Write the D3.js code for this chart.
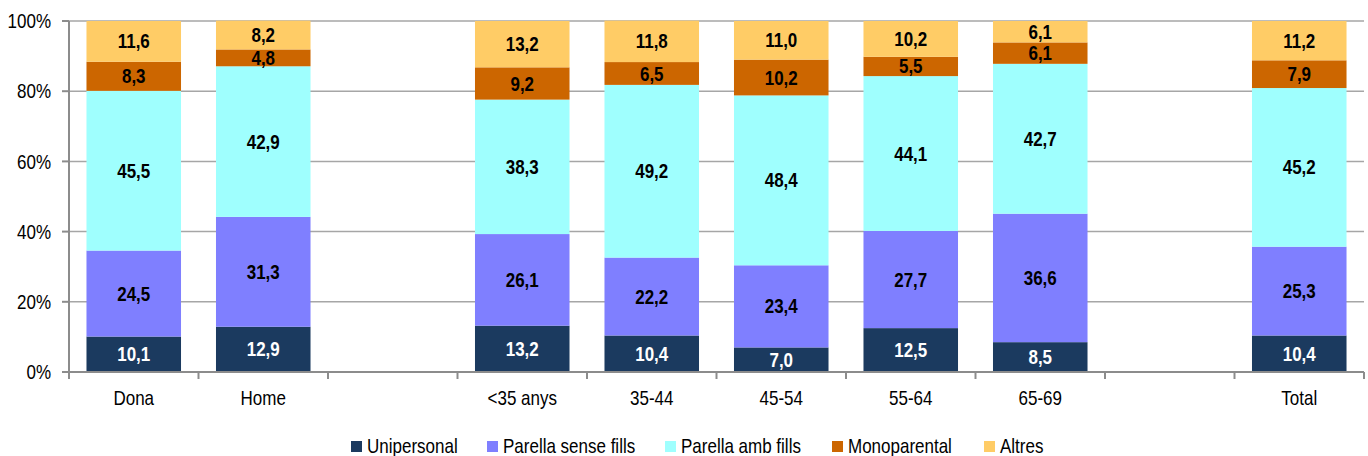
<!DOCTYPE html>
<html><head><meta charset="utf-8">
<script src="https://cdn.jsdelivr.net/npm/d3@7"></script>
<style>body{margin:0;background:#fff}svg{display:block}</style>
</head><body>
<svg id="c" width="1368" height="456"></svg>
<script>
const categories = ["Dona","Home","gap1","<35 anys","35-44","45-54","55-64","65-69","gap2","Total"];
const seriesNames = ["Unipersonal","Parella sense fills","Parella amb fills","Monoparental","Altres"];
const unipersonal   = [10.1,12.9,null,13.2,10.4, 7.0,12.5, 8.5,null,10.4];
const parellaSense  = [24.5,31.3,null,26.1,22.2,23.4,27.7,36.6,null,25.3];
const parellaAmb    = [45.5,42.9,null,38.3,49.2,48.4,44.1,42.7,null,45.2];
const monoparental  = [ 8.3, 4.8,null, 9.2, 6.5,10.2, 5.5, 6.1,null, 7.9];
const altres        = [11.6, 8.2,null,13.2,11.8,11.0,10.2, 6.1,null,11.2];
const yTicks = [0,20,40,60,80,100];
const colors = ["#1b3a5f","#7f7fff","#9ffffe","#cc6600","#ffcc66"];
const labelColors = ["#ffffff","#000","#000","#000","#000"];

const svg = d3.select("#c");
const L = 69, R = 1364, T = 21, B = 372;
const font = "'Liberation Sans',Arial,sans-serif";
const SX = 0.85;

function ntext(g, x, y, str, opts){
  const t = g.append("text")
    .attr("transform",`translate(${x},${y}) scale(${opts.sx||SX},1)`)
    .attr("text-anchor",opts.anchor||"middle")
    .attr("font-family",font).attr("font-size",opts.size||20)
    .attr("font-weight",opts.weight||"normal")
    .attr("fill",opts.fill||"#000")
    .text(str);
  if(opts.dy) t.attr("dy",opts.dy);
  return t;
}

const x = d3.scaleBand().domain(categories).range([L,R]).paddingInner(0.27).paddingOuter(0.135);
const y = d3.scaleLinear().domain([0,100]).range([B,T]);

// gridlines
svg.append("g").selectAll("line").data(yTicks.filter(d=>d>0)).join("line")
  .attr("x1",L).attr("x2",R).attr("y1",d=>y(d)).attr("y2",d=>y(d))
  .attr("stroke","#a6a6a6").attr("stroke-width",1.5);

const rows = categories.map((c,i)=>({cat:c, vals:[unipersonal[i],parellaSense[i],parellaAmb[i],monoparental[i],altres[i]]}))
  .filter(r=>r.vals[0]!==null);
const stackData = rows.map(r=>{const o={cat:r.cat}; seriesNames.forEach((s,k)=>o[s]=r.vals[k]); return o;});
const stacked = d3.stack().keys(seriesNames)(stackData);

stacked.forEach((layer,k)=>{
  svg.append("g").selectAll("rect").data(layer).join("rect")
    .attr("x",d=>x(d.data.cat)).attr("width",x.bandwidth())
    .attr("y",d=>y(d[1])).attr("height",d=>y(d[0])-y(d[1]))
    .attr("fill",colors[k]);
});
const lab = svg.append("g");
stacked.forEach((layer,k)=>{
  layer.forEach(d=>{
    ntext(lab, x(d.data.cat)+x.bandwidth()/2, (y(d[0])+y(d[1]))/2,
      d3.format(".1f")(d[1]-d[0]).replace(".",","),
      {size:19.5, weight:"bold", fill:labelColors[k], dy:"0.36em", sx:0.87});
  });
});

// y axis
const ya = svg.append("g");
ya.append("line").attr("x1",L).attr("x2",L).attr("y1",T).attr("y2",B).attr("stroke","#8c8c8c").attr("stroke-width",2);
yTicks.forEach(v=>{
  ya.append("line").attr("x1",L-7).attr("x2",L).attr("y1",y(v)).attr("y2",y(v)).attr("stroke","#8c8c8c").attr("stroke-width",2);
  ntext(ya, L-18, y(v), v+"%", {anchor:"end", dy:"0.36em"});
});

// x axis
const xa = svg.append("g").attr("transform",`translate(0,${B})`);
xa.append("line").attr("x1",L).attr("x2",R).attr("stroke","#8c8c8c").attr("stroke-width",2);
const bounds = d3.range(categories.length+1).map(i=>L+i*(R-L)/categories.length);
xa.selectAll("line.t").data(bounds).join("line").attr("class","t")
  .attr("x1",d=>d).attr("x2",d=>d).attr("y1",0).attr("y2",7)
  .attr("stroke","#8c8c8c").attr("stroke-width",2);
categories.filter(c=>!c.startsWith("gap")).forEach(c=>{
  ntext(xa, x(c)+x.bandwidth()/2, 33, c, {});
});

// legend
const legX = [351,487,665,832,984];
const lg = svg.append("g");
seriesNames.forEach((s,k)=>{
  lg.append("rect").attr("x",legX[k]).attr("y",441).attr("width",11).attr("height",11).attr("fill",colors[k]);
  ntext(lg, legX[k]+16, 453, s, {anchor:"start"});
});
</script>
</body></html>
